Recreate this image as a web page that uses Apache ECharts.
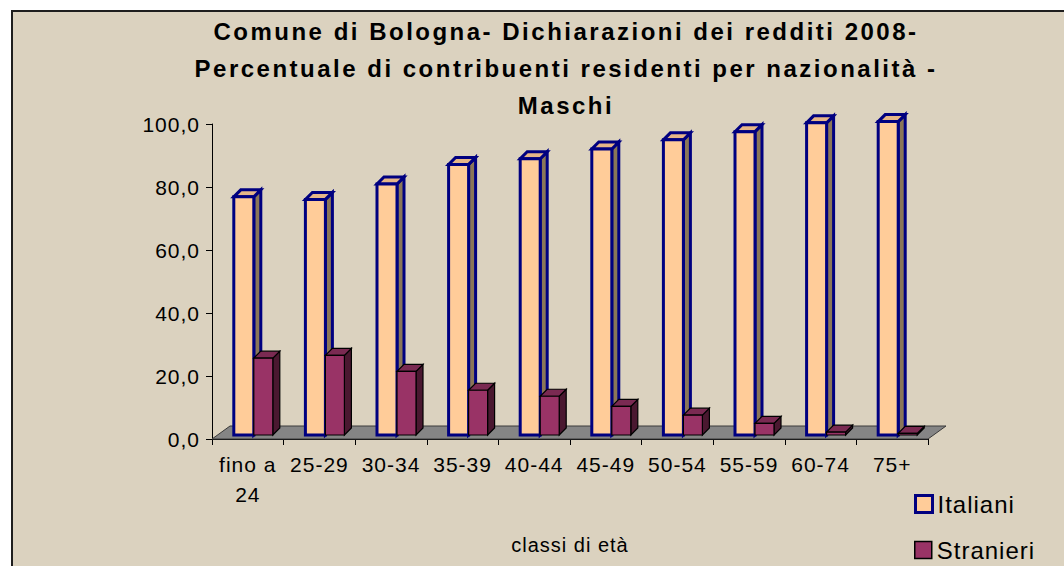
<!DOCTYPE html>
<html>
<head>
<meta charset="utf-8">
<script src="https://cdn.jsdelivr.net/npm/echarts@6/dist/echarts.min.js"></script>
<style>
  html, body { margin: 0; padding: 0; background: #fff; }
  #chart { width: 1064px; height: 566px; }
  /* il grafico originale ha il testo un po' spaziato */
  #chart text { letter-spacing: 1px; }
</style>
</head>
<body>
<div id="chart"></div>
<script>
// classi di età
var categories = ['fino a\n24', '25-29', '30-34', '35-39', '40-44', '45-49', '50-54', '55-59', '60-74', '75+'];
// percentuali
var italiani = [75.6, 74.8, 79.7, 85.9, 87.7, 90.8, 93.7, 96.3, 99.1, 99.5];
var stranieri = [24.4, 25.3, 20.2, 14.2, 12.3, 9.1, 6.3, 3.7, 0.9, 0.5];
var yTicks = [0, 20, 40, 60, 80, 100];

var FONT = 'Liberation Sans, Arial, sans-serif';
var DX = 7, DY = -7;    // profondità delle barre
var LIFT = 4;           // le barre stanno a metà del pavimento

function box(x0, x1, yb, yt, c) {
    var front = [[x0, yb], [x1, yb], [x1, yt], [x0, yt]];
    var side = [[x1, yb], [x1 + DX, yb + DY], [x1 + DX, yt + DY], [x1, yt]];
    var top = [[x0, yt], [x1, yt], [x1 + DX, yt + DY], [x0 + DX, yt + DY]];
    var st = { stroke: c.stroke, lineWidth: c.lw, lineJoin: 'miter' };
    return [
        { type: 'polygon', shape: { points: side }, style: Object.assign({ fill: c.side }, st) },
        { type: 'polygon', shape: { points: top }, style: Object.assign({ fill: c.top }, st) },
        { type: 'polygon', shape: { points: front }, style: Object.assign({ fill: c.front }, st) }
    ];
}

function barRenderer(from, to, c) {
    return function (params, api) {
        var idx = api.value(0);
        var p0 = api.coord([idx, 0]);
        var p1 = api.coord([idx, api.value(1)]);
        var yb = p0[1] - LIFT, yt = p1[1] - LIFT;
        return { type: 'group', children: box(p0[0] + from, p0[0] + to, yb, yt, c) };
    };
}

function floorRenderer(params) {
    var cs = params.coordSys;
    var yb = cs.y + cs.height;
    var pts = [[cs.x, yb], [cs.x + cs.width, yb], [cs.x + cs.width + 18, yb - 13], [cs.x + 18, yb - 13]];
    return {
        type: 'polygon',
        shape: { points: pts },
        style: { fill: '#858585', stroke: '#3a3a3a', lineWidth: 1 }
    };
}

var chart = echarts.init(document.getElementById('chart'), null, { renderer: 'svg' });
var option = {
    backgroundColor: '#ffffff',
    animation: false,
    graphic: [{
        type: 'rect',
        shape: { x: 12, y: 11, width: 1070, height: 580 },
        style: { fill: '#dbd2bf', stroke: '#1e1e1e', lineWidth: 2 },
        z: -10
    }],
    title: {
        text: 'Comune di Bologna- Dichiarazioni dei redditi 2008-\nPercentuale di contribuenti residenti per nazionalità -\nMaschi',
        left: 561,
        top: 8,
        textAlign: 'center',
        textStyle: {
            fontFamily: FONT,
            fontWeight: 'bold',
            fontSize: 24,
            lineHeight: 37,
            color: '#000'
        }
    },
    legend: [{
        left: 914,
        top: 492,
        padding: 0,
        itemWidth: 17,
        itemHeight: 17,
        icon: 'rect',
        textStyle: { fontFamily: FONT, fontSize: 24, color: '#000', lineHeight: 24 },
        data: [{ name: 'Italiani', itemStyle: { color: '#ffcc99', borderColor: '#000080', borderWidth: 3 } }]
    }, {
        left: 914,
        top: 538,
        padding: 0,
        itemWidth: 17,
        itemHeight: 17,
        icon: 'rect',
        textStyle: { fontFamily: FONT, fontSize: 24, color: '#000', lineHeight: 24 },
        data: [{ name: 'Stranieri', itemStyle: { color: '#993366', borderColor: '#000', borderWidth: 1.5 } }]
    }],
    grid: { left: 212, right: 136, top: 124, bottom: 127 },
    xAxis: {
        type: 'category',
        data: categories,
        name: 'classi di età',
        nameLocation: 'middle',
        nameGap: 96,
        nameTextStyle: { fontFamily: FONT, fontSize: 20, color: '#000' },
        axisLine: { lineStyle: { color: '#000', width: 1 } },
        axisTick: { show: true, length: 6, lineStyle: { color: '#000' } },
        axisLabel: {
            margin: 10,
            interval: 0,
            fontFamily: FONT,
            fontSize: 21,
            lineHeight: 30,
            color: '#000'
        }
    },
    yAxis: {
        type: 'value',
        min: yTicks[0],
        max: yTicks[yTicks.length - 1],
        interval: 20,
        splitLine: { show: false },
        axisLine: { show: true, lineStyle: { color: '#000', width: 1 } },
        axisTick: { show: true, length: 6, lineStyle: { color: '#000' } },
        axisLabel: {
            margin: 12,
            fontFamily: FONT,
            fontSize: 21,
            color: '#000',
            formatter: function (v) { return v.toFixed(1).replace('.', ','); }
        }
    },
    series: [
        {
            name: 'floor',
            type: 'custom',
            renderItem: floorRenderer,
            data: [[0, 0]],
            silent: true,
            z: 1
        },
        {
            name: 'Italiani',
            type: 'custom',
            itemStyle: { color: '#ffcc99' },
            renderItem: barRenderer(-14, 6, { front: '#ffcc99', side: '#8a7658', top: '#e6b688', stroke: '#000080', lw: 3 }),
            data: italiani.map(function (v, i) { return [i, v]; }),
            z: 2
        },
        {
            name: 'Stranieri',
            type: 'custom',
            itemStyle: { color: '#993366' },
            renderItem: barRenderer(6, 25, { front: '#993366', side: '#4a1830', top: '#7a2a52', stroke: '#000', lw: 1.2 }),
            data: stranieri.map(function (v, i) { return [i, v]; }),
            z: 3
        }
    ]
};

function spaceTitle() {
    var texts = document.querySelectorAll('#chart text');
    for (var i = 0; i < texts.length; i++) {
        var w = window.getComputedStyle(texts[i]).fontWeight;
        if (w === 'bold' || parseInt(w, 10) >= 700) {
            texts[i].style.letterSpacing = '2.5px';
        }
    }
}
chart.on('finished', spaceTitle);
chart.setOption(option);
spaceTitle();
</script>
</body>
</html>
